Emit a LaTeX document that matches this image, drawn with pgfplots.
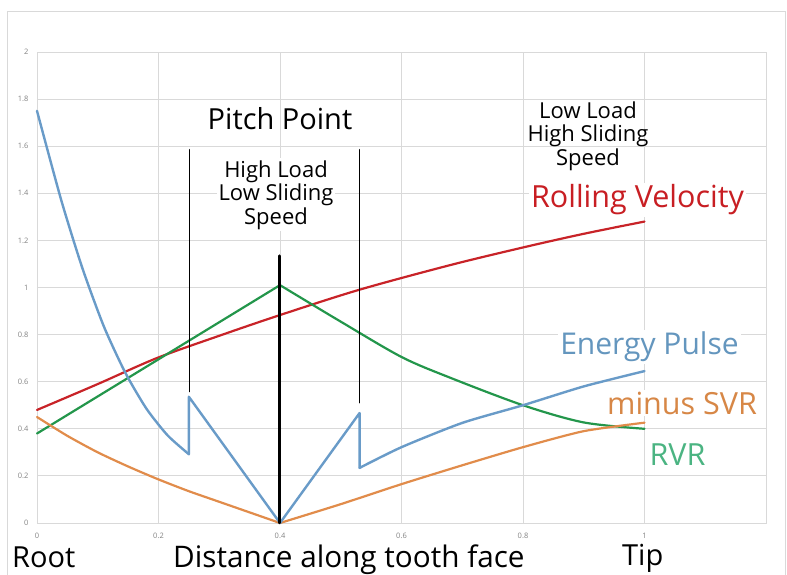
\documentclass[border=0pt]{standalone}
\usepackage{fontspec}
\setmainfont{Open Sans}
\usepackage{pgfplots}
\pgfplotsset{compat=1.18}
\definecolor{cred}{RGB}{200,35,40}
\definecolor{cgreen}{RGB}{35,150,75}
\definecolor{cblue}{RGB}{105,155,200}
\definecolor{corange}{RGB}{225,140,75}
\definecolor{cgrid}{RGB}{217,217,217}
\definecolor{ctick}{RGB}{130,130,130}
\definecolor{lred}{RGB}{200,30,35}
\definecolor{lblue}{RGB}{100,150,190}
\definecolor{lgreen}{RGB}{75,180,130}
\definecolor{lorange}{RGB}{215,135,70}
\begin{document}
\begin{tikzpicture}[x=1pt,y=1pt]
\useasboundingbox (0,0) rectangle (787,575);
\draw[cgrid, line width=0.8pt] (7,-5) rectangle (785,564);
\begin{axis}[at={(37pt,52pt)}, anchor=south west, scale only axis,
  width=729pt, height=471pt,
  xmin=0, xmax=1.2, ymin=0, ymax=2,
  xtick={0,0.2,0.4,0.6,0.8,1,1.2},
  xticklabels={0,0.2,0.4,0.6,0.8,1,},
  ytick={0,0.2,0.4,0.6,0.8,1,1.2,1.4,1.6,1.8,2},
  yticklabels={0,0.2,0.4,0.6,0.8,1,1.2,1.4,1.6,1.8,2},
  grid=major, major grid style={cgrid, line width=0.8pt},
  axis line style={cgrid, line width=0.8pt},
  tick style={draw=none},
  /pgf/number format/assume math mode=true,
  ticklabel style={font=\fontsize{7.5}{8}\selectfont, text=ctick},
  xticklabel style={yshift=-7pt},
  yticklabel style={xshift=-5pt},
  every axis plot/.append style={line cap=round, line join=round},
  clip=false]
\addplot[cred, line width=2.2pt, smooth, tension=0.5] coordinates {(0,0.48)(0.1,0.59)(0.197,0.70)(0.3,0.795)(0.4,0.883)(0.53,0.99)(0.68,1.095)(0.8,1.17)(0.9,1.228)(1,1.28)};
\addplot[cgreen, line width=2.2pt] coordinates {(0,0.38)(0.4,1.01)};
\addplot[cgreen, line width=2.2pt, smooth, tension=0.5] coordinates {(0.4,1.01)(0.5,0.855)(0.6,0.705)(0.68,0.617)(0.8,0.50)(0.9,0.427)(1,0.40)};
\addplot[corange, line width=2.2pt, smooth, tension=0.4] coordinates {(0,0.45)(0.05,0.37)(0.1,0.30)(0.15,0.24)(0.2,0.185)(0.25,0.135)(0.3,0.09)(0.35,0.045)(0.4,0)};
\addplot[corange, line width=2.2pt, smooth, tension=0.4] coordinates {(0.4,0)(0.5,0.08)(0.6,0.165)(0.7,0.245)(0.8,0.322)(0.9,0.39)(1,0.426)};
\addplot[cblue, line width=2.4pt, smooth, tension=0.4] coordinates {(0,1.75)(0.04,1.37)(0.075,1.08)(0.11,0.835)(0.145,0.64)(0.18,0.486)(0.215,0.372)(0.25,0.292)};
\addplot[cblue, line width=2.4pt] coordinates {(0.25,0.292)(0.25,0.536)(0.4,0)(0.531,0.467)(0.531,0.234)};
\addplot[cblue, line width=2.4pt, smooth, tension=0.4] coordinates {(0.531,0.234)(0.6,0.322)(0.7,0.425)(0.8,0.50)(0.9,0.58)(1,0.645)};
\addplot[black, line width=1.5pt] coordinates {(0.251,1.585)(0.251,0.558)};
\addplot[black, line width=1.5pt] coordinates {(0.531,1.585)(0.531,0.511)};
\addplot[black, line width=2.5pt] coordinates {(0.3995,1.135)(0.3995,0)};
\end{axis}
\node[font=\fontsize{29}{32}\selectfont] at (280,456) {Pitch Point};
\node[align=center, fill=white, inner sep=2pt, font=\fontsize{22}{23.5}\selectfont] at (276,380) {High Load\\Low Sliding\\Speed};
\node[align=center, inner sep=2pt, font=\fontsize{22}{23.5}\selectfont] at (588,439) {Low Load\\High Sliding\\Speed};
\node[fill=white, inner sep=2pt, text=lred, font=\fontsize{30.5}{32}\selectfont] at (637.5,375) {Rolling Velocity};
\node[fill=white, inner sep=2pt, text=lblue, font=\fontsize{30}{32}\selectfont] at (649.5,228) {Energy Pulse};
\node[fill=white, inner sep=2pt, text=lorange, font=\fontsize{30.5}{32}\selectfont] at (682,172) {minus SVR};
\node[fill=white, inner sep=2pt, text=lgreen, font=\fontsize{30.5}{32}\selectfont] at (677.5,120) {RVR};
\node[anchor=base west, inner sep=0pt, font=\fontsize{29}{32}\selectfont] at (12,7) {Root};
\node[anchor=base west, inner sep=0pt, font=\fontsize{29.7}{32}\selectfont] at (173,7) {Distance along tooth face};
\node[anchor=base west, inner sep=0pt, font=\fontsize{29}{32}\selectfont] at (622,9) {Tip};
\end{tikzpicture}
\end{document}
